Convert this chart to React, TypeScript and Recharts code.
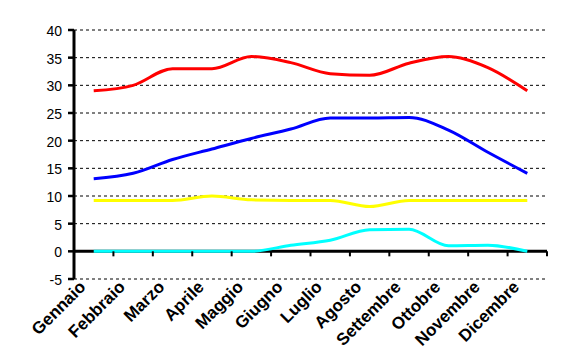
import { CartesianGrid, Line, LineChart, ReferenceLine, XAxis, YAxis } from 'recharts'

const months = [
  'Gennaio', 'Febbraio', 'Marzo', 'Aprile', 'Maggio', 'Giugno',
  'Luglio', 'Agosto', 'Settembre', 'Ottobre', 'Novembre', 'Dicembre',
]
const redSeries = [29, 30, 33, 33, 35.2, 34.1, 32.1, 31.8, 34, 35.2, 33.2, 29]
const blueSeries = [13.1, 14.1, 16.6, 18.5, 20.4, 22.1, 24.1, 24.1, 24.2, 21.9, 17.9, 14.1]
const yellowSeries = [9.2, 9.2, 9.2, 10, 9.3, 9.2, 9.2, 8.1, 9.2, 9.2, 9.2, 9.2]
const cyanSeries = [0, 0, 0, 0, 0, 1.1, 2.0, 3.9, 4.0, 1.0, 1.1, 0]
const yTicks = [-5, 0, 5, 10, 15, 20, 25, 30, 35, 40]

const data = months.map((m, i) => ({
  month: m,
  red: redSeries[i],
  blue: blueSeries[i],
  yellow: yellowSeries[i],
  cyan: cyanSeries[i],
}))

const W = 563
const H = 362
const TOP = 30
const RIGHT = 16
const Y_AXIS_W = 74
const X_AXIS_H = 83
const PLOT_W = W - RIGHT - Y_AXIS_W
const PLOT_H = H - TOP - X_AXIS_H
const BAND = PLOT_W / months.length
const ZERO_Y = TOP + (PLOT_H * 40) / 45
const FONT = '"Liberation Sans", Arial, sans-serif'

function MonthTick(props: any) {
  const { x, y, payload } = props
  const tx = x - 7
  const ty = y + 9
  return (
    <g>
      <line x1={x + BAND / 2} x2={x + BAND / 2} y1={ZERO_Y} y2={ZERO_Y + 5} stroke="#000" strokeWidth={2} />
      <text
        x={tx}
        y={ty}
        transform={`rotate(-45 ${tx} ${ty})`}
        textAnchor="end"
        fontFamily={FONT}
        fontWeight="bold"
        fontSize={17}
        fill="#000"
      >
        {payload.value}
      </text>
    </g>
  )
}

export default function App() {
  return (
    <div style={{ position: 'absolute', left: 0, top: 0, background: '#fff' }}>
      <LineChart width={W} height={H} data={data} margin={{ top: TOP, right: RIGHT, left: 0, bottom: 0 }}>
        <CartesianGrid vertical={false} stroke="#000" strokeDasharray="3 3" />
        <XAxis
          dataKey="month"
          scale="band"
          height={X_AXIS_H}
          axisLine={false}
          tickLine={false}
          tickSize={0}
          tickMargin={0}
          interval={0}
          tick={<MonthTick />}
        />
        <YAxis
          width={Y_AXIS_W}
          domain={[-5, 40]}
          ticks={yTicks}
          interval={0}
          axisLine={{ stroke: '#000', strokeWidth: 3 }}
          tickLine={{ stroke: '#000', strokeWidth: 2.5 }}
          tickSize={6}
          tickMargin={6}
          tick={{ fill: '#000', fontSize: 14, fontFamily: FONT, dy: 1 }}
        />
        <ReferenceLine y={0} stroke="#000" strokeWidth={3} />
        <Line type="monotone" dataKey="red" stroke="#ff0000" strokeWidth={3} dot={false} isAnimationActive={false} />
        <Line type="monotone" dataKey="blue" stroke="#0000ff" strokeWidth={3} dot={false} isAnimationActive={false} />
        <Line type="monotone" dataKey="yellow" stroke="#ffff00" strokeWidth={3} dot={false} isAnimationActive={false} />
        <Line type="monotone" dataKey="cyan" stroke="#00ffff" strokeWidth={3} dot={false} isAnimationActive={false} />
      </LineChart>
    </div>
  )
}
